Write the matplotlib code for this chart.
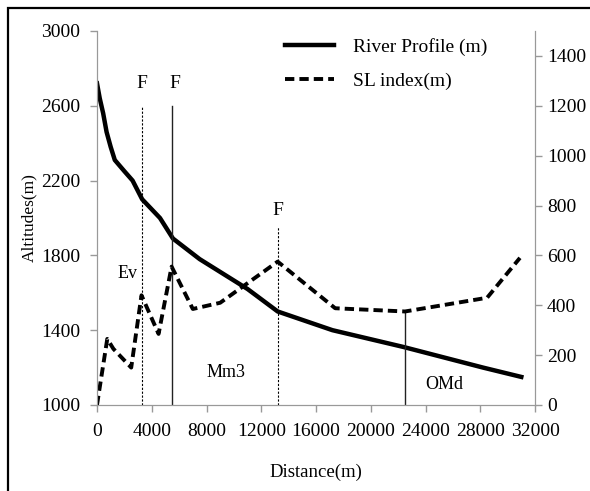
import matplotlib
matplotlib.use("Agg")
import matplotlib.pyplot as plt
from matplotlib.patches import Rectangle

plt.rcParams['font.family'] = ['Liberation Serif', 'DejaVu Serif']
plt.rcParams['font.size'] = 14

# river profile (left axis)
dist_river = [0, 200, 450, 700, 1000, 1300, 2000, 2600, 3300, 4600, 5550, 7500, 11000, 13200, 17200, 22400, 28200, 31000]
alt_river = [2720, 2640, 2560, 2460, 2380, 2310, 2250, 2200, 2100, 2000, 1890, 1780, 1620, 1500, 1400, 1310, 1200, 1150]

# SL index (right axis)
dist_sl = [0, 750, 1200, 2500, 3250, 4500, 5450, 7000, 9000, 13200, 17400, 22500, 28500, 30900]
sl_vals = [0, 265, 225, 150, 440, 285, 555, 385, 410, 575, 388, 375, 430, 590]

# faults / boundaries: x, top altitude, style
fault_x = [3300, 5480, 13200, 22500]
fault_top = [2600, 2600, 1950, 1500]
fault_dashed = [True, False, True, False]

fault_labels = ["F", "F", "F"]
fault_label_x = [3300, 5700, 13200]
fault_label_y = [2720, 2720, 2040]

unit_labels = ["Ev", "Mm3", "OMd"]
unit_x = [2200, 9400, 25400]
unit_y = [1705, 1176, 1107]

fig = plt.figure(figsize=(5.9, 4.91), dpi=100)
ax = fig.add_axes([0.1644, 0.1752, 0.7424, 0.7617])
ax2 = ax.twinx()

# frame around the whole picture (only left/top visible)
fig.patches.append(Rectangle((8 / 590, -0.1), 1.2, 1.1 - 8 / 491,
                             transform=fig.transFigure, fill=False,
                             edgecolor='black', linewidth=1.6, zorder=0))

l1, = ax.plot(dist_river, alt_river, color='black', lw=3.2, solid_joinstyle='round')
l2, = ax2.plot(dist_sl, sl_vals, color='black', lw=2.8, dashes=(2.4, 1.3))

for x, top, d in zip(fault_x, fault_top, fault_dashed):
    if d:
        ax.plot([x, x], [1000, top], color='black', lw=0.8, dashes=(2, 1.5))
    else:
        ax.plot([x, x], [1000, top], color='#222222', lw=1.0)

for t, x, y in zip(fault_labels, fault_label_x, fault_label_y):
    ax.text(x, y, t, ha='center', va='center', fontsize=14)
for t, x, y in zip(unit_labels, unit_x, unit_y):
    ax.text(x, y, t, ha='center', va='center', fontsize=13)

ax.set_xlim(0, 32000)
ax.set_ylim(1000, 3000)
ax2.set_ylim(0, 1500)
ax.set_xticks(range(0, 32001, 4000))
ax.set_yticks(range(1000, 3001, 400))
ax2.set_yticks(range(0, 1401, 200))

for a in (ax, ax2):
    a.spines['top'].set_visible(False)
    for s in ('left', 'right', 'bottom'):
        a.spines[s].set_color('#999999')
    a.tick_params(color='#999999', length=5, width=1, labelsize=14)
ax.tick_params(axis='x', pad=8)
ax.tick_params(axis='y', pad=7)

ax.set_xlabel("Distance(m)", labelpad=17, fontsize=13.5)
ax.set_ylabel("Altitudes(m)", labelpad=3, fontsize=12.5)
ax2.set_ylabel("SL index(m)", color='#c05010', labelpad=8, fontsize=12.5)

ax2.legend([l1, l2], ["River Profile (m)", "SL index(m)"], loc='upper left',
           bbox_to_anchor=(0.39, 1.028), frameon=False, handlelength=2.5,
           handletextpad=1.0, labelspacing=0.85, fontsize=14)

fig.savefig("out.png", dpi=100)
